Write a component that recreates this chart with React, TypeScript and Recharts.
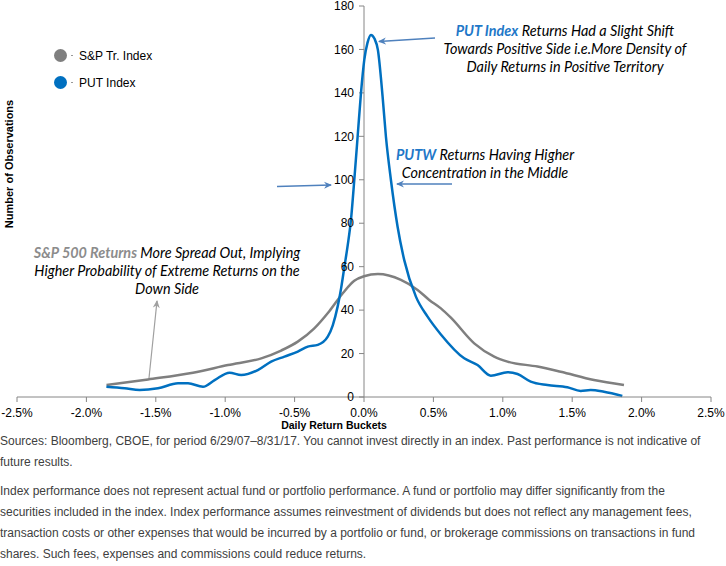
import React from 'react';
import { LineChart, Line, XAxis, YAxis, ReferenceLine, Legend } from 'recharts';

// Daily return buckets (%) and number of observations
const spBuckets = [-1.855, -1.556, -1.232, -0.98, -0.74, -0.597, -0.477, -0.36, -0.25, -0.15, -0.07, 0, 0.1, 0.266, 0.386, 0.47, 0.554, 0.626, 0.794, 0.938, 1.034, 1.25, 1.417, 1.657, 1.873];
const spCounts = [5.5, 8.1, 11.2, 14.7, 17.8, 21.4, 25.5, 31.5, 39.5, 48, 53.5, 55.6, 56.6, 53.9, 49.3, 44.7, 40.8, 36.5, 24.7, 18.6, 16.3, 14, 11.6, 7.8, 5.5];

const putBuckets = [-1.856, -1.724, -1.616, -1.484, -1.34, -1.268, -1.16, -1.076, -0.968, -0.885, -0.765, -0.669, -0.573, -0.477, -0.405, -0.333, -0.261, -0.225, -0.19, -0.165, -0.141, -0.117, -0.094, -0.07, -0.046, -0.022, 0.002, 0.025, 0.05, 0.075, 0.1, 0.134, 0.158, 0.194, 0.242, 0.29, 0.374, 0.458, 0.554, 0.722, 0.818, 0.914, 1.034, 1.106, 1.201, 1.321, 1.465, 1.561, 1.633, 1.729, 1.861];
const putCounts = [4.7, 4.0, 3.2, 4.0, 6.3, 6.3, 4.7, 7.8, 11.2, 10.1, 12.4, 16.3, 18.6, 20.9, 23.2, 24, 27.8, 33, 41.6, 50, 60, 70, 81.5, 99.9, 119.8, 139.8, 155.2, 163, 166.7, 165, 159.8, 138.3, 119.8, 99.9, 78.4, 63, 46.2, 37, 28.8, 17.8, 14.7, 9.8, 11.4, 10.6, 7.1, 5.5, 4.5, 2.8, 3.2, 2.4, 0.5];

const xTicks = [-2.5, -2, -1.5, -1, -0.5, 0, 0.5, 1, 1.5, 2, 2.5];
const yTicks = [0, 20, 40, 60, 80, 100, 120, 140, 160, 180];

const seriesNames = ['S&P Tr. Index', 'PUT Index'];
const seriesColors = ['#7f7f7f', '#0070c0'];

const spData = spBuckets.map((x, i) => ({ x, y: spCounts[i] }));
const putData = putBuckets.map((x, i) => ({ x, y: putCounts[i] }));

const footLines1 = [
  'Sources: Bloomberg, CBOE, for period 6/29/07\u20138/31/17. You cannot invest directly in an index. Past performance is not indicative of',
  'future results.',
];
const footLines2 = [
  'Index performance does not represent actual fund or portfolio performance. A fund or portfolio may differ significantly from the',
  'securities included in the index. Index performance assumes reinvestment of dividends but does not reflect any management fees,',
  'transaction costs or other expenses that would be incurred by a portfolio or fund, or brokerage commissions on transactions in fund',
  'shares. Such fees, expenses and commissions could reduce returns.',
];

const annFont = 'Lato, "Open Sans", sans-serif';

const LegendContent = () => (
  <div style={{ fontFamily: '"Liberation Sans", Arial, sans-serif', fontSize: 12, color: '#000' }}>
    {seriesNames.map((n, i) => (
      <div key={n} style={{ display: 'flex', alignItems: 'center', height: 27 }}>
        <span style={{ width: 13, height: 13, borderRadius: '50%', background: seriesColors[i], display: 'inline-block' }} />
        <span style={{ width: 2, height: 1, background: '#999', display: 'inline-block', marginLeft: 4 }} />
        <span style={{ marginLeft: 6 }}>{n}</span>
      </div>
    ))}
  </div>
);

export default function App() {
  return (
    <div style={{ position: 'absolute', left: 0, top: 0, width: 726, height: 566, background: '#fff', overflow: 'hidden' }}>
      <LineChart width={726} height={440} margin={{ top: 6, right: 15, left: 17, bottom: 13 }}>
        <XAxis
          type="number"
          dataKey="x"
          domain={[-2.5, 2.5]}
          ticks={xTicks}
          allowDataOverflow
          tickFormatter={(v: number) => v.toFixed(1) + '%'}
          stroke="#868686"
          tick={{ fill: '#000', fontSize: 12, fontFamily: '"Liberation Sans", Arial, sans-serif' }}
          tickSize={5}
          tickMargin={6}
          height={30}
        />
        <YAxis hide type="number" domain={[0, 180]} ticks={yTicks} />
        <ReferenceLine x={0} stroke="#868686" strokeWidth={1} />
        {yTicks.map((v) => (
          <ReferenceLine
            key={v}
            segment={[{ x: -0.036, y: v }, { x: 0, y: v }]}
            stroke="#868686"
            strokeWidth={1}
            label={{ value: String(v), position: 'left', offset: 5, fill: '#000', fontSize: 12, fontFamily: '"Liberation Sans", Arial, sans-serif' }}
          />
        ))}
        <Line data={spData} dataKey="y" type="monotone" stroke={seriesColors[0]} strokeWidth={2.5} dot={false} isAnimationActive={false} name={seriesNames[0]} />
        <Line data={putData} dataKey="y" type="monotone" stroke={seriesColors[1]} strokeWidth={2.5} dot={false} isAnimationActive={false} name={seriesNames[1]} />
        <Legend layout="horizontal" verticalAlign="middle" align="center" content={LegendContent} wrapperStyle={{ top: 42, left: 54, width: 140, height: 56 }} />
      </LineChart>

      <svg width={726} height={440} style={{ position: 'absolute', left: 0, top: 0, pointerEvents: 'none' }}>
        <defs>
          <marker id="ab" markerWidth="8" markerHeight="8" refX="7" refY="4" orient="auto" markerUnits="userSpaceOnUse">
            <path d="M0,0.5 L8,4 L0,7.5 L2.5,4 Z" fill="#4f81bd" />
          </marker>
          <marker id="ag" markerWidth="8" markerHeight="8" refX="7" refY="4" orient="auto" markerUnits="userSpaceOnUse">
            <path d="M0,0.5 L8,4 L0,7.5 L2.5,4 Z" fill="#a0a0a0" />
          </marker>
        </defs>
        <line x1={435} y1={38} x2={379} y2={41.5} stroke="#4f81bd" strokeWidth={1.3} markerEnd="url(#ab)" />
        <line x1={452} y1={184} x2={397} y2={184} stroke="#4f81bd" strokeWidth={1.3} markerEnd="url(#ab)" />
        <line x1={277} y1={186.5} x2={331} y2={185} stroke="#4f81bd" strokeWidth={1.3} markerEnd="url(#ab)" />
        <line x1={149} y1={378} x2={157} y2={301} stroke="#a0a0a0" strokeWidth={1.2} markerEnd="url(#ag)" />

        <g fontFamily={annFont} fontSize={14.4} fontStyle="italic" fill="#000" textAnchor="middle">
          <text x={565} y={36}>
            <tspan fontWeight="bold" fill="#1f78c8">PUT Index</tspan> Returns Had a Slight Shift
          </text>
          <text x={565} y={54}>Towards Positive Side i.e.More Density of</text>
          <text x={565} y={72}>Daily Returns in Positive Territory</text>

          <text x={485} y={160}>
            <tspan fontWeight="bold" fill="#1f78c8">PUTW</tspan> Returns Having Higher
          </text>
          <text x={485} y={178}>Concentration in the Middle</text>

          <text x={167} y={258}>
            <tspan fontWeight="bold" fill="#8c8c8c">S&amp;P 500 Returns</tspan> More Spread Out, Implying
          </text>
          <text x={167} y={276}>Higher Probability of Extreme Returns on the</text>
          <text x={167} y={294}>Down Side</text>
        </g>

        <text x={334} y={429} textAnchor="middle" fontFamily='"Liberation Sans", Arial, sans-serif' fontSize={10.5} fontWeight="bold" fill="#000">Daily Return Buckets</text>
        <text transform="translate(13,164) rotate(-90)" textAnchor="middle" fontFamily='"Liberation Sans", Arial, sans-serif' fontSize={11} fontWeight="bold" fill="#000">Number of Observations</text>
      </svg>

      <div style={{ position: 'absolute', left: 0, top: 431, width: 726, fontFamily: '"Liberation Sans", Arial, sans-serif', fontSize: 12, color: '#404040', lineHeight: '21px', whiteSpace: 'nowrap' }}>
        {footLines1.map((l) => <div key={l}>{l}</div>)}
        <div style={{ height: 8 }} />
        {footLines2.map((l) => <div key={l}>{l}</div>)}
      </div>
    </div>
  );
}
